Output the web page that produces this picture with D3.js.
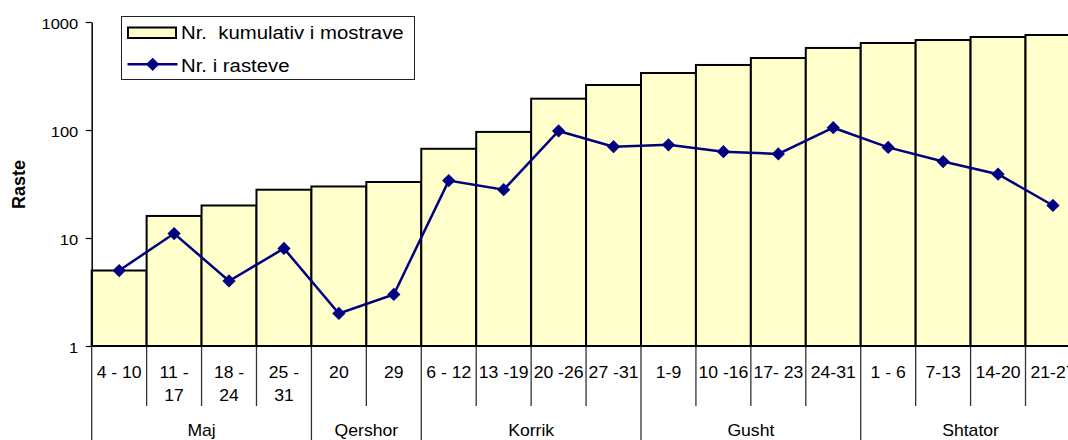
<!DOCTYPE html>
<html>
<head>
<meta charset="utf-8">
<script src="https://cdn.jsdelivr.net/npm/d3@7"></script>
<style>
  body { margin: 0; background: #fff; }
  text { font-family: "Liberation Sans", Arial, sans-serif; fill: #000; }
</style>
</head>
<body>
<script>
const weeks = ['4 - 10', '11 -\n17', '18 -\n24', '25 -\n31', '20', '29', '6 - 12', '13 -19', '20 -26', '27 -31',
    '1-9', '10 -16', '17- 23', '24-31', '1 - 6', '7-13', '14-20', '21-27'];
const months = ['Maj', 'Qershor', 'Korrik', 'Gusht', 'Shtator'];
const weeksPerMonth = [4, 2, 4, 4, 4];
const cumulative = [5, 16, 20, 28, 30, 33, 67, 96, 195, 261, 337, 400, 464, 575, 639, 681, 726, 758];
const cases = [5, 11, 4, 8, 2, 3, 34, 28, 98, 70, 73, 63, 60, 105, 69, 51, 39, 20];
const yTicks = [1, 10, 100, 1000];

const svgWidth = 1068;
const svgHeight = 440;
const SX = 1.1; // text in the reference is a little wide

const svg = d3.select('body').append('svg')
    .attr('width', svgWidth)
    .attr('height', svgHeight);

const plotLeft = 91.7, plotTop = 22, plotBottom = 346;
const step = 54.93;

function stretch(sel) {
    sel.each(function () {
        const t = d3.select(this);
        const x = +t.attr('x') || 0;
        t.attr('x', x / SX).attr('transform', 'scale(' + SX + ',1)');
    });
}

let x = d3.scaleBand().domain(d3.range(weeks.length))
    .range([plotLeft, plotLeft + step * weeks.length]).padding(0);
let y = d3.scaleLog().domain([1, 1000]).range([plotBottom, plotTop]);

// bars
svg.selectAll('rect.bar')
    .data(cumulative)
    .enter().append('rect')
    .attr('class', 'bar')
    .attr('x', (d, i) => x(i))
    .attr('y', d => y(d))
    .attr('width', x.bandwidth())
    .attr('height', d => plotBottom - y(d))
    .attr('fill', '#FFFFCC')
    .attr('stroke', '#000')
    .attr('stroke-width', 2);

// line + markers
let line = d3.line()
    .x((d, i) => x(i) + x.bandwidth() / 2)
    .y(d => y(d));

svg.append('path')
    .datum(cases)
    .attr('d', line)
    .attr('fill', 'none')
    .attr('stroke', '#000080')
    .attr('stroke-width', 2.5);

const diamond = d3.symbol().type(d3.symbolSquare).size(88);
svg.selectAll('path.pt')
    .data(cases)
    .enter().append('path')
    .attr('class', 'pt')
    .attr('d', diamond)
    .attr('transform', (d, i) => 'translate(' + (x(i) + x.bandwidth() / 2) + ',' + y(d) + ') rotate(45)')
    .attr('fill', '#000080');

// y axis
let gy = svg.append('g')
    .attr('transform', 'translate(' + plotLeft + ',0)')
    .call(d3.axisLeft(y).tickValues(yTicks).tickFormat(d3.format('d')).tickSize(6).tickSizeOuter(0).tickPadding(7.5));
gy.select('.domain').attr('stroke', '#000').attr('stroke-width', 1.5);
gy.selectAll('.tick line').attr('stroke', '#000').attr('stroke-width', 1.2);
gy.selectAll('.tick text')
    .attr('font-size', 15)
    .attr('font-family', '"Liberation Sans", Arial, sans-serif')
    .attr('dy', '0.45em')
    .call(stretch);

svg.append('text')
    .attr('transform', 'translate(25,184.5) rotate(-90)')
    .attr('text-anchor', 'middle')
    .attr('font-size', 18)
    .attr('font-weight', 'bold')
    .text('Raste');

// x axis: weeks
let gx = svg.append('g')
    .attr('transform', 'translate(0,' + plotBottom + ')')
    .call(d3.axisBottom(x).tickSize(0).tickFormat(i => weeks[i]));
gx.select('.domain').remove();
gx.selectAll('.tick text')
    .attr('font-size', 16)
    .attr('font-family', '"Liberation Sans", Arial, sans-serif')
    .attr('y', 32)
    .attr('dy', 0)
    .each(function () {
        const t = d3.select(this);
        const parts = t.text().split('\n');
        t.text(null);
        parts.forEach((p, k) => {
            t.append('tspan').attr('x', 0).attr('dy', k === 0 ? 0 : 23).text(p);
        });
    })
    .call(stretch);

// month groups
let starts = [];
let acc = 0;
weeksPerMonth.forEach(n => { starts.push(acc); acc += n; });

// week dividers
svg.selectAll('line.wk')
    .data(d3.range(weeks.length).filter(i => !starts.includes(i)))
    .enter().append('line')
    .attr('class', 'wk')
    .attr('x1', i => x(i)).attr('x2', i => x(i))
    .attr('y1', plotBottom).attr('y2', 406)
    .attr('stroke', '#333')
    .attr('stroke-width', 1.3);

// month dividers
svg.selectAll('line.mo')
    .data(starts.concat([weeks.length]))
    .enter().append('line')
    .attr('class', 'mo')
    .attr('x1', i => i < weeks.length ? x(i) : x.range()[1])
    .attr('x2', i => i < weeks.length ? x(i) : x.range()[1])
    .attr('y1', plotBottom).attr('y2', svgHeight)
    .attr('stroke', '#333')
    .attr('stroke-width', 1.3);

svg.selectAll('text.month')
    .data(months)
    .enter().append('text')
    .attr('class', 'month')
    .attr('x', (d, i) => x(starts[i]) + weeksPerMonth[i] * step / 2)
    .attr('y', 436.5)
    .attr('text-anchor', 'middle')
    .attr('font-size', 16)
    .text(d => d)
    .call(stretch);

// x axis line
svg.append('line')
    .attr('x1', plotLeft).attr('x2', x.range()[1])
    .attr('y1', plotBottom).attr('y2', plotBottom)
    .attr('stroke', '#000')
    .attr('stroke-width', 2);

// legend
let lg = svg.append('g');
lg.append('rect')
    .attr('x', 121.5).attr('y', 16.5)
    .attr('width', 293).attr('height', 63)
    .attr('fill', '#fff')
    .attr('stroke', '#222')
    .attr('stroke-width', 1);
lg.append('rect')
    .attr('x', 128).attr('y', 27.5)
    .attr('width', 48).attr('height', 10.5)
    .attr('fill', '#FFFFCC')
    .attr('stroke', '#000')
    .attr('stroke-width', 2);
lg.append('line')
    .attr('x1', 127.5).attr('x2', 177.5)
    .attr('y1', 64.3).attr('y2', 64.3)
    .attr('stroke', '#000080')
    .attr('stroke-width', 2.5);
lg.append('path')
    .attr('d', diamond)
    .attr('transform', 'translate(152.7,64.3) rotate(45)')
    .attr('fill', '#000080');
lg.append('text')
    .attr('x', 181).attr('y', 39.5)
    .attr('font-size', 18.5)
    .style('white-space', 'pre')
    .text('Nr.  kumulativ i mostrave')
    .call(stretch);
lg.append('text')
    .attr('x', 181).attr('y', 72.5)
    .attr('font-size', 18.5)
    .text('Nr. i rasteve')
    .call(stretch);
</script>
</body>
</html>
